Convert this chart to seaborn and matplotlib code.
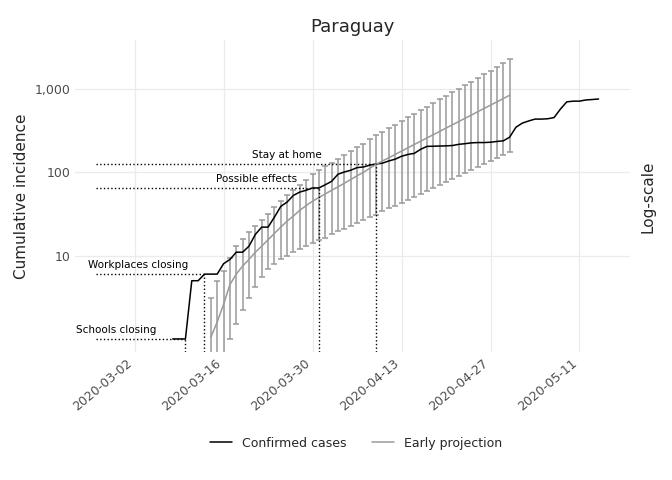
import numpy as np
import pandas as pd
import matplotlib
matplotlib.use("Agg")
import matplotlib.pyplot as plt
import matplotlib.dates as mdates
import matplotlib.ticker as mticker
import seaborn as sns

# confirmed cases, 2020-03-08 .. 2020-05-14
conf_start = "2020-03-08"
confirmed = [1, 1, 1, 5, 5, 6, 6, 6, 8, 9, 11, 11, 13, 18, 22, 22, 29, 39, 44, 53,
             58, 61, 65, 65, 71, 78, 95, 101, 106, 114, 116, 122, 126, 129, 137, 144,
             156, 164, 169, 189, 205, 206, 207, 208, 210, 217, 221, 226, 228, 228,
             230, 235, 239, 264, 348, 390, 414, 436, 436, 440, 455, 575, 702, 716,
             716, 740, 749, 760]

# early projection, 2020-03-14 .. 2020-04-30
proj_start = "2020-03-14"
proj_mean = [1.05, 1.6, 2.6, 4.5, 6, 7.5, 9, 11, 13, 15.5, 18.5, 22, 26, 30, 35, 40, 45,
             50, 55, 61, 67, 74, 82, 91, 100, 112, 125,
             137, 150, 164, 180, 197, 216, 236, 259, 283, 310, 340, 372, 407, 446,
             488, 535, 586, 641, 702, 769, 842]
proj_low = [0.3, 0.3, 0.3, 1.0, 1.5, 2.2, 3.1, 4.2, 5.5, 7, 8, 9, 10, 11, 12, 13, 14,
            15.5, 16.5, 18, 19.5, 21, 23, 25, 27, 29, 31,
            34, 37, 40, 43, 47, 51, 55, 60, 65, 71, 77, 83, 90, 98, 106, 115, 125,
            136, 148, 160, 174]
proj_high = [3.1, 5, 6.5, 9.5, 13, 16, 19, 23, 27, 32, 38, 45, 53, 61, 70, 82, 95,
             106, 118, 131, 146, 162, 180, 200, 222, 250, 279,
             308, 340, 375, 414, 457, 505, 557, 615, 679, 750, 828, 914, 1009, 1114,
             1230, 1358, 1499, 1655, 1827, 2050, 2300]

# interventions: label, date, level, label x position
events = ["Schools closing", "Workplaces closing", "Possible effects", "Stay at home"]
event_dates = ["2020-03-10", "2020-03-13", "2020-03-31", "2020-04-09"]
event_levels = [1, 6, 65, 126]
label_dates = ["2020-03-05", "2020-03-10", "2020-03-27", "2020-03-31"]

df_conf = pd.DataFrame({"date": pd.date_range(conf_start, periods=len(confirmed)),
                        "cases": confirmed, "series": "Confirmed cases"})
df_proj = pd.DataFrame({"date": pd.date_range(proj_start, periods=len(proj_mean)),
                        "cases": proj_mean, "series": "Early projection"})
df = pd.concat([df_conf, df_proj])

sns.set_theme(style="whitegrid")
plt.rcParams["font.family"] = ["DejaVu Sans"]
fig = plt.figure(figsize=(6.72, 4.8), dpi=100)
ax = fig.add_axes([0.112, 0.267, 0.826, 0.65])

grey = "#9a9a9a"
ax.errorbar(df_proj["date"], df_proj["cases"],
            yerr=[np.array(proj_mean) - np.array(proj_low),
                  np.array(proj_high) - np.array(proj_mean)],
            fmt="none", ecolor=grey, elinewidth=1.1, capsize=2, capthick=1.1)
sns.lineplot(data=df, x="date", y="cases", hue="series",
             palette={"Confirmed cases": "black", "Early projection": grey},
             linewidth=1.1, ax=ax)

x0 = pd.Timestamp("2020-02-25")
for name, d, lvl, ld in zip(events, event_dates, event_levels, label_dates):
    d = pd.Timestamp(d)
    ax.plot([x0, d], [lvl, lvl], ls=":", color="black", lw=1)
    ax.plot([d, d], [0.1, lvl], ls=":", color="black", lw=1)
    ax.text(pd.Timestamp(ld) + pd.Timedelta(days=0.5), lvl * 1.12, name,
            ha="right", va="bottom", fontsize=7.5, color="black")

ax.set_yscale("log")
ax.set_ylim(0.7, 3900)
ax.set_xlim(pd.Timestamp("2020-02-21 16:00"), pd.Timestamp("2020-05-19 00:00"))
ax.yaxis.set_major_locator(mticker.FixedLocator([10, 100, 1000]))
ax.yaxis.set_minor_locator(mticker.NullLocator())
ax.yaxis.set_major_formatter(mticker.FuncFormatter(lambda v, p: f"{v:,.0f}"))
ticks = pd.date_range("2020-03-02", "2020-05-11", freq="14D")
ax.set_xticks(ticks)
ax.xaxis.set_major_formatter(mdates.DateFormatter("%Y-%m-%d"))
for lab in ax.get_xticklabels():
    lab.set_rotation(40)
    lab.set_ha("right")
ax.tick_params(labelsize=9, colors="#4d4d4d", length=0)
for s in ax.spines.values():
    s.set_visible(False)
ax.grid(color="#ebebeb", lw=0.9)
ax.set_xlabel("")
ax.set_ylabel("Cumulative incidence", fontsize=11)
ax.set_title("Paraguay", fontsize=13)
fig.text(0.965, 0.59, "Log-scale", rotation=90, va="center", ha="center", fontsize=11)

ax.legend_.remove()
handles, labels = ax.get_legend_handles_labels()
fig.legend(handles, labels, loc="center", bbox_to_anchor=(0.53, 0.077), ncol=2,
           frameon=False, fontsize=9, handlelength=1.8)

fig.savefig("out.png", dpi=100)
